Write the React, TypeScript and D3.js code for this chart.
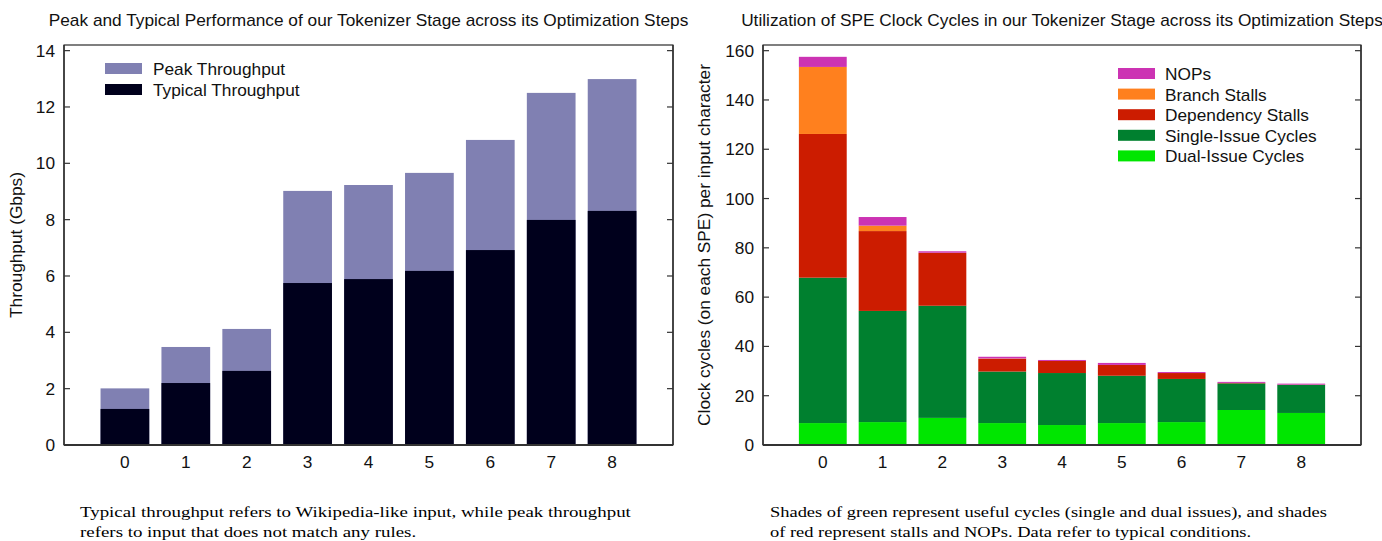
import React from 'react';
import * as d3 from 'd3';

const W = 1382;
const H = 541;

// optimization steps
const steps = ['0', '1', '2', '3', '4', '5', '6', '7', '8'];

// left chart: throughput in Gbps
const peakThroughput = [2.01, 3.48, 4.12, 9.02, 9.23, 9.66, 10.83, 12.5, 12.99];
const typicalThroughput = [1.28, 2.2, 2.63, 5.75, 5.89, 6.18, 6.92, 7.99, 8.31];
const throughputTicks = [0, 2, 4, 6, 8, 10, 12, 14];

// right chart: clock cycles per input character (segment sizes, bottom to top)
const dualIssue = [8.9, 9.3, 11.0, 8.9, 8.1, 8.9, 9.3, 14.2, 13.0];
const singleIssue = [59.0, 45.1, 45.5, 20.9, 21.1, 19.2, 17.5, 10.8, 11.4];
const dependencyStalls = [58.3, 32.4, 21.4, 5.2, 4.9, 4.4, 2.4, 0.2, 0.1];
const branchStalls = [27.2, 2.2, 0.1, 0.1, 0, 0, 0, 0, 0];
const nops = [4.1, 3.5, 0.6, 0.7, 0.4, 0.8, 0.4, 0.4, 0.4];
const cycleTicks = [0, 20, 40, 60, 80, 100, 120, 140, 160];

const cycleSeries = [
  { name: 'Dual-Issue Cycles', values: dualIssue, color: '#00e600' },
  { name: 'Single-Issue Cycles', values: singleIssue, color: '#00802f' },
  { name: 'Dependency Stalls', values: dependencyStalls, color: '#cc1c00' },
  { name: 'Branch Stalls', values: branchStalls, color: '#ff801e' },
  { name: 'NOPs', values: nops, color: '#cc33b3' },
];

const PEAK = '#8080b2';
const TYPICAL = '#00001c';
const AXIS = '#333';
const sans = 'Liberation Sans, Arial, sans-serif';
const serif = 'Liberation Serif, Times New Roman, serif';

const top = 45;
const bottom = 445;

// the reference's sans text is a bit wider than Liberation Sans, stretch it
function Label({ x, y, anchor = 'start', rotate = 0, size = 16, children }: any) {
  return (
    <text
      transform={`translate(${x},${y}) rotate(${rotate}) scale(1.08,1)`}
      textAnchor={anchor}
      fontSize={size}
      fontFamily={sans}
      fill="#111"
    >
      {children}
    </text>
  );
}

function Caption({ x, stretch, lines }: { x: number; stretch: number; lines: string[] }) {
  return (
    <g>
      {lines.map((t, i) => (
        <text key={i} transform={`translate(${x},${517 + i * 20}) scale(${stretch},1)`} fontSize={15} fontFamily={serif} fill="#000">
          {t}
        </text>
      ))}
    </g>
  );
}

function Frame({ x0, x1, y, ticks }: { x0: number; x1: number; y: d3.ScaleLinear<number, number>; ticks: number[] }) {
  return (
    <g>
      <rect x={x0} y={top} width={x1 - x0} height={bottom - top} fill="none" stroke="#000" strokeWidth={1} />
      <line x1={x0} x2={x1} y1={bottom} y2={bottom} stroke={AXIS} strokeWidth={2} />
      <line x1={x0} x2={x0} y1={top} y2={bottom} stroke={AXIS} strokeWidth={1.5} />
      <line x1={x1} x2={x1} y1={top} y2={bottom} stroke={AXIS} strokeWidth={1.5} />
      {ticks.map((t) => (
        <g key={t}>
          <line x1={x0} x2={x0 + 6} y1={y(t)} y2={y(t)} stroke={AXIS} strokeWidth={1.2} />
          <line x1={x1} x2={x1 - 6} y1={y(t)} y2={y(t)} stroke={AXIS} strokeWidth={1.2} />
          <Label x={x0 - 9} y={y(t) + 6} anchor="end">
            {t}
          </Label>
        </g>
      ))}
    </g>
  );
}

function ThroughputChart() {
  const x0 = 64;
  const x1 = 673;
  const x = d3.scaleLinear().domain([-1, 9]).range([x0, x1]);
  const y = d3.scaleLinear().domain([0, 14.2]).range([bottom, top]);
  const bw = (x(1) - x(0)) * 0.8;
  return (
    <g>
      <Label x={(x0 + x1) / 2} y={26} anchor="middle">
        Peak and Typical Performance of our Tokenizer Stage across its Optimization Steps
      </Label>
      {steps.map((s, i) => (
        <g key={s}>
          <rect x={x(i) - bw / 2} y={y(peakThroughput[i])} width={bw} height={y(0) - y(peakThroughput[i])} fill={PEAK} />
          <rect x={x(i) - bw / 2} y={y(typicalThroughput[i])} width={bw} height={y(0) - y(typicalThroughput[i])} fill={TYPICAL} />
          <Label x={x(i)} y={bottom + 23} anchor="middle">
            {s}
          </Label>
        </g>
      ))}
      <Frame x0={x0} x1={x1} y={y} ticks={throughputTicks} />
      <Label x={22} y={(top + bottom) / 2} anchor="middle" rotate={-90}>
        Throughput (Gbps)
      </Label>
      {[
        { name: 'Peak Throughput', color: PEAK },
        { name: 'Typical Throughput', color: TYPICAL },
      ].map((d, i) => (
        <g key={d.name}>
          <rect x={105} y={63 + i * 21} width={37} height={11} fill={d.color} />
          <Label x={153} y={75 + i * 21}>
            {d.name}
          </Label>
        </g>
      ))}
      <Caption
        x={80}
        stretch={1.26}
        lines={['Typical throughput refers to Wikipedia-like input, while peak throughput', 'refers to input that does not match any rules.']}
      />
    </g>
  );
}

function CyclesChart() {
  const x0 = 763;
  const x1 = 1361;
  const x = d3.scaleLinear().domain([-1, 9]).range([x0, x1]);
  const y = d3.scaleLinear().domain([0, 162.3]).range([bottom, top]);
  const bw = (x(1) - x(0)) * 0.8;
  const table = steps.map((s, i) => {
    const row: Record<string, number | string> = { step: s };
    cycleSeries.forEach((c) => (row[c.name] = c.values[i]));
    return row;
  });
  const stacked = d3.stack<Record<string, number | string>>().keys(cycleSeries.map((c) => c.name)).value((d, k) => d[k] as number)(table);
  return (
    <g>
      <Label x={(x0 + x1) / 2} y={26} anchor="middle">
        Utilization of SPE Clock Cycles in our Tokenizer Stage across its Optimization Steps
      </Label>
      {stacked.map((layer, li) => (
        <g key={layer.key} fill={cycleSeries[li].color}>
          {layer.map((seg, i) => (
            <rect key={i} x={x(i) - bw / 2} y={y(seg[1])} width={bw} height={Math.max(0, y(seg[0]) - y(seg[1]))} />
          ))}
        </g>
      ))}
      {steps.map((s, i) => (
        <Label key={s} x={x(i)} y={bottom + 23} anchor="middle">
          {s}
        </Label>
      ))}
      <Frame x0={x0} x1={x1} y={y} ticks={cycleTicks} />
      <Label x={710} y={(top + bottom) / 2} anchor="middle" rotate={-90}>
        Clock cycles (on each SPE) per input character
      </Label>
      {cycleSeries
        .slice()
        .reverse()
        .map((d, i) => (
          <g key={d.name}>
            <rect x={1118} y={68 + i * 20.6} width={37} height={11} fill={d.color} />
            <Label x={1165} y={80 + i * 20.6}>
              {d.name}
            </Label>
          </g>
        ))}
      <Caption
        x={770}
        stretch={1.23}
        lines={['Shades of green represent useful cycles (single and dual issues), and shades', 'of red represent stalls and NOPs. Data refer to typical conditions.']}
      />
    </g>
  );
}

export default function App() {
  return (
    <svg width={W} height={H} style={{ position: 'absolute', left: 0, top: 0, background: '#fff' }}>
      <rect width={W} height={H} fill="#fff" />
      <ThroughputChart />
      <CyclesChart />
    </svg>
  );
}
